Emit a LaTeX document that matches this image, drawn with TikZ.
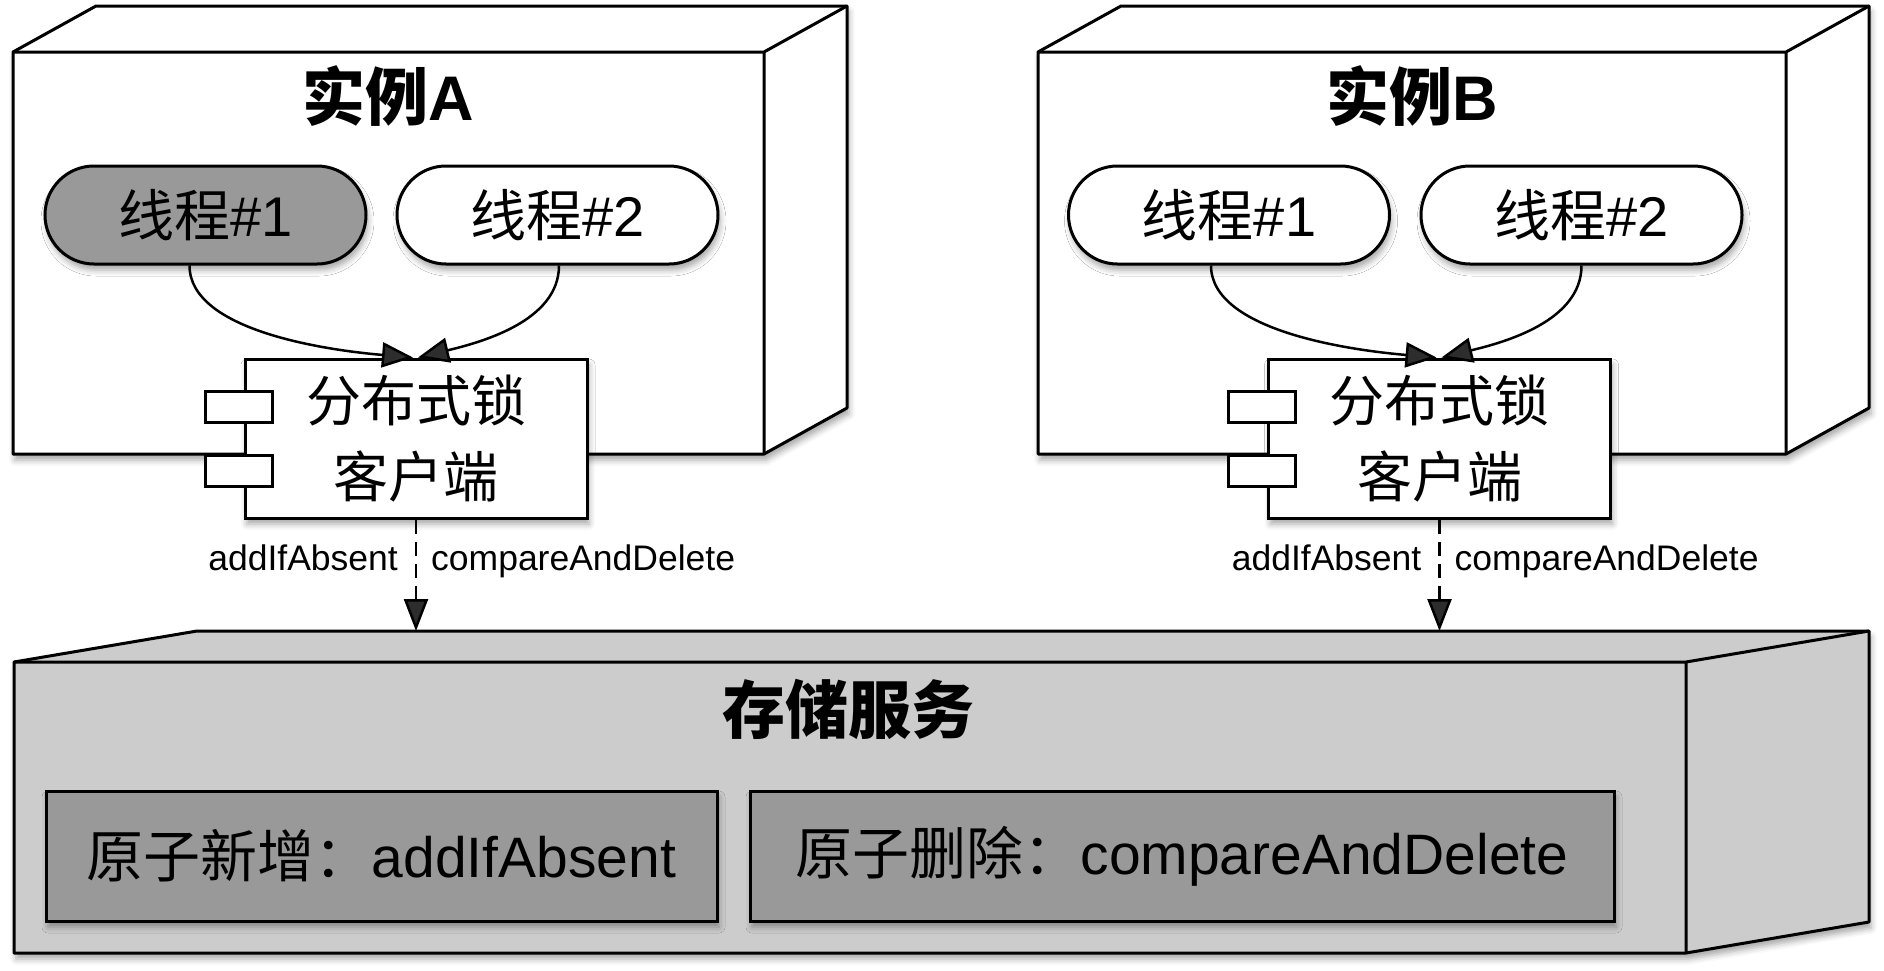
\documentclass[tikz,border=0pt]{standalone}
\usepackage{fontspec}
\setmainfont{Liberation Sans}
\newfontfamily\cjk{Noto Sans CJK SC}
\usetikzlibrary{arrows.meta,shadows.blur}
\definecolor{midgray}{HTML}{999999}
\definecolor{litgray}{HTML}{CCCCCC}
\tikzset{
  shd/.style={blur shadow={shadow xshift=2pt,shadow yshift=-6pt,shadow blur radius=6pt,shadow opacity=35}},
  edge/.style={line width=3pt,line join=round},
  thread/.style={draw,line width=3pt,rounded corners=49pt,minimum width=321pt,minimum height=98pt,inner sep=0pt,font=\fontsize{56}{60}\selectfont,shd},
  comp/.style={draw,fill=white,line width=3pt,minimum width=342pt,minimum height=159pt,inner sep=0pt,align=center,font=\fontsize{55}{76}\selectfont,shd},
  port/.style={draw,fill=white,line width=3pt,minimum width=67pt,minimum height=31pt,inner sep=0pt},
  flow/.style={line width=2.5pt,-{Triangle[length=31pt,width=25pt]}},
  call/.style={line width=2.5pt,dash pattern=on 14pt off 8pt,-{Triangle[length=32pt,width=24pt]}},
  lbl/.style={font=\fontsize{35.5}{40}\selectfont,inner sep=0pt},
  title/.style={font=\fontsize{63}{70}\selectfont\bfseries,inner sep=0pt},
  op/.style={draw,fill=midgray,line width=3pt,inner sep=0pt,minimum height=130pt,font=\fontsize{57}{60}\selectfont,shd},
}
\begin{document}
\begin{tikzpicture}[x=1pt,y=-1pt]
\useasboundingbox (0,0) rectangle (1884,970);
% ---------- instance A ----------
\fill[white,shd] (13,52) -- (96,6) -- (847,6) -- (847,408) -- (764,454) -- (13,454) -- cycle;
\draw[edge] (13,52) -- (96,6) -- (847,6) -- (847,408) -- (764,454) -- (13,454) -- cycle;
\draw[edge] (13,52) -- (764,52) -- (847,6) (764,52) -- (764,454);
\node[title] (tA) at (388,96) {{\cjk 实例}A};
\node[thread,fill=midgray] (a1) at (205.5,215) {{\cjk 线程}\#1};
\node[thread,fill=white] (a2) at (557.5,215) {{\cjk 线程}\#2};
\node[comp] (cA) at (416,438.5) {{\cjk 分布式锁}\\{\cjk 客户端}};
\node[port] (pA1) at (238.5,406.5) {};
\node[port] (pA2) at (238.5,471) {};
\draw[flow] ([xshift=-16pt]a1.south) .. controls +(0,66) and +(-83,-7) .. ([xshift=-3pt]cA.north);
\draw[flow] ([xshift=1.5pt]a2.south) .. controls +(0,56) and +(62,-15) .. ([xshift=2pt]cA.north);
% ---------- instance B ----------
\fill[white,shd] (1038,52) -- (1121,6) -- (1869,6) -- (1869,408) -- (1786,454) -- (1038,454) -- cycle;
\draw[edge] (1038,52) -- (1121,6) -- (1869,6) -- (1869,408) -- (1786,454) -- (1038,454) -- cycle;
\draw[edge] (1038,52) -- (1786,52) -- (1869,6) (1786,52) -- (1786,454);
\node[title] (tB) at (1412,96) {{\cjk 实例}B};
\node[thread,fill=white] (b1) at (1229,215) {{\cjk 线程}\#1};
\node[thread,fill=white] (b2) at (1581.5,215) {{\cjk 线程}\#2};
\node[comp] (cB) at (1439.5,438.5) {{\cjk 分布式锁}\\{\cjk 客户端}};
\node[port] (pB1) at (1261.5,406.5) {};
\node[port] (pB2) at (1261.5,471) {};
\draw[flow] ([xshift=-18pt]b1.south) .. controls +(0,66) and +(-83,-7) .. ([xshift=-3pt]cB.north);
\draw[flow] ([xshift=0pt]b2.south) .. controls +(0,56) and +(62,-15) .. ([xshift=2pt]cB.north);
% ---------- storage ----------
\fill[litgray,shd] (14,662) -- (197,631) -- (1869,631) -- (1869,922) -- (1686,953) -- (14,953) -- cycle;
\draw[edge] (14,662) -- (197,631) -- (1869,631) -- (1869,922) -- (1686,953) -- (14,953) -- cycle;
\draw[edge] (14,662) -- (1686,662) -- (1869,631) (1686,662) -- (1686,953);
\node[title] (tS) at (848,709) {\cjk 存储服务};
\node[op,minimum width=671pt] (o1) at (381.5,856) {{\cjk 原子新增：}addIfAbsent};
\node[op,minimum width=864pt] (o2) at (1182,856) {{\cjk 原子删除：}compareAndDelete};
% ---------- calls ----------
\coordinate (sTop) at (0,631);
\coordinate (labY) at (0,570);
\draw[call] (cA.south) -- (cA.south |- sTop);
\draw[call] (cB.south) -- (cB.south |- sTop);
\node[lbl,anchor=base east,xshift=-18pt] (lA1) at (cA.south |- labY) {addIfAbsent};
\node[lbl,anchor=base west,xshift=15pt] (lA2) at (cA.south |- labY) {compareAndDelete};
\node[lbl,anchor=base east,xshift=-18pt] (lB1) at (cB.south |- labY) {addIfAbsent};
\node[lbl,anchor=base west,xshift=15pt] (lB2) at (cB.south |- labY) {compareAndDelete};
\end{tikzpicture}
\end{document}
